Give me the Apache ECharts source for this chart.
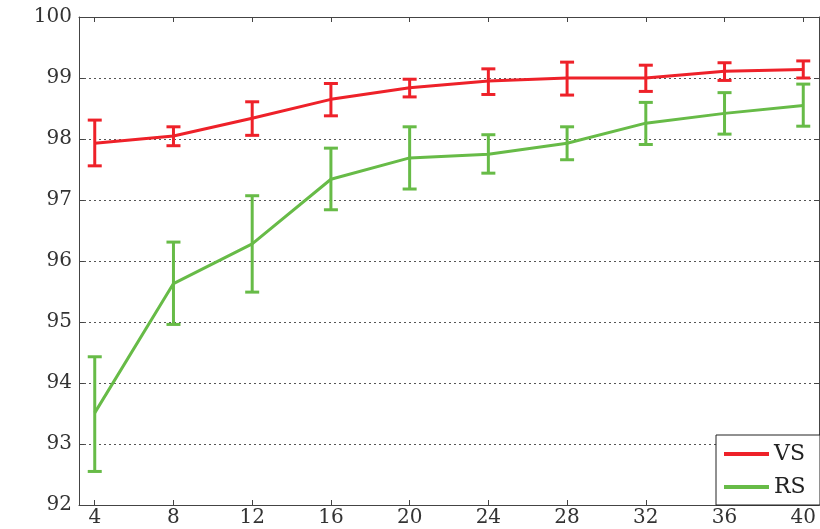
<!DOCTYPE html>
<html>
<head>
<meta charset="utf-8">
<script src="https://cdn.jsdelivr.net/npm/echarts@6/dist/echarts.min.js"></script>
<style>html,body{margin:0;padding:0;background:#fff;}#c{width:820px;height:529px;}</style>
</head>
<body>
<div id="c"></div>
<script>
const xValues = [4, 8, 12, 16, 20, 24, 28, 32, 36, 40];
const vsMean = [97.93, 98.05, 98.34, 98.65, 98.84, 98.95, 99.00, 99.00, 99.11, 99.14];
const vsLow  = [97.56, 97.89, 98.06, 98.38, 98.69, 98.73, 98.72, 98.78, 98.96, 99.00];
const vsHigh = [98.31, 98.20, 98.61, 98.91, 98.98, 99.15, 99.26, 99.21, 99.25, 99.28];
const rsMean = [93.51, 95.63, 96.28, 97.34, 97.69, 97.75, 97.93, 98.26, 98.42, 98.55];
const rsLow  = [92.55, 94.96, 95.49, 96.84, 97.18, 97.44, 97.66, 97.91, 98.08, 98.21];
const rsHigh = [94.43, 96.31, 97.07, 97.85, 98.20, 98.07, 98.20, 98.60, 98.76, 98.90];
const xTicks = [4, 8, 12, 16, 20, 24, 28, 32, 36, 40];

const RED = '#EE2129';
const GREEN = '#67BB47';
const FONT = 'DejaVu Serif';

function pairs(xs, ys) { return xs.map((x, i) => [x, ys[i]]); }
function errData(xs, lo, hi) { return xs.map((x, i) => [x, lo[i], hi[i]]); }

function errSeries(name, color, data) {
  return {
    type: 'custom',
    name: name,
    data: data,
    z: 3,
    renderItem: function (params, api) {
      const x = api.value(0);
      const lo = api.coord([x, api.value(1)]);
      const hi = api.coord([x, api.value(2)]);
      const w = 7;
      const style = { stroke: color, lineWidth: 3 };
      return {
        type: 'group',
        children: [
          { type: 'line', shape: { x1: lo[0], y1: lo[1], x2: hi[0], y2: hi[1] }, style: style },
          { type: 'line', shape: { x1: lo[0] - w, y1: lo[1], x2: lo[0] + w, y2: lo[1] }, style: style },
          { type: 'line', shape: { x1: hi[0] - w, y1: hi[1], x2: hi[0] + w, y2: hi[1] }, style: style }
        ]
      };
    },
    encode: { x: 0, y: [1, 2] },
    tooltip: { show: false }
  };
}

const chart = echarts.init(document.getElementById('c'));
const axisLineStyle = { color: '#444', width: 1 };
chart.setOption({
  animation: false,
  backgroundColor: '#fff',
  grid: { left: 79, top: 17, right: 1, bottom: 24, show: false },
  legend: {
    data: [
      { name: 'VS', icon: 'rect', itemStyle: { color: RED } },
      { name: 'RS', icon: 'rect', itemStyle: { color: GREEN } }
    ],
    orient: 'vertical',
    right: 0,
    bottom: 24,
    itemWidth: 45,
    itemHeight: 4,
    itemGap: 11,
    padding: [8, 4, 7, 8],
    backgroundColor: '#fff',
    borderColor: '#222',
    borderWidth: 1,
    borderRadius: 0,
    textStyle: { fontFamily: FONT, fontSize: 22, color: '#222', lineHeight: 20, width: 42 }
  },
  xAxis: [
    {
      type: 'value', min: 3.2, max: 40.8, position: 'bottom',
      axisLine: { show: true, onZero: false, lineStyle: axisLineStyle },
      axisTick: { show: true, inside: true, length: 5, customValues: xTicks, lineStyle: axisLineStyle },
      axisLabel: { customValues: xTicks, margin: 3, fontFamily: FONT, fontSize: 20, color: '#333' },
      splitLine: { show: false }
    },
    {
      type: 'value', min: 3.2, max: 40.8, position: 'top',
      axisLine: { show: true, onZero: false, lineStyle: axisLineStyle },
      axisTick: { show: true, inside: true, length: 5, customValues: xTicks, lineStyle: axisLineStyle },
      axisLabel: { show: false },
      splitLine: { show: false }
    }
  ],
  yAxis: [
    {
      type: 'value', min: 92, max: 100, interval: 1, position: 'left',
      axisLine: { show: true, onZero: false, lineStyle: axisLineStyle },
      axisTick: { show: true, inside: true, length: 5, lineStyle: axisLineStyle },
      axisLabel: { margin: 7, fontFamily: FONT, fontSize: 20, color: '#333' },
      splitLine: { show: true, lineStyle: { color: '#555', width: 1, type: [2, 3] } }
    },
    {
      type: 'value', min: 92, max: 100, interval: 1, position: 'right',
      axisLine: { show: true, onZero: false, lineStyle: axisLineStyle },
      axisTick: { show: true, inside: true, length: 5, lineStyle: axisLineStyle },
      axisLabel: { show: false },
      splitLine: { show: false }
    }
  ],
  series: [
    {
      name: 'RS', type: 'line', data: pairs(xValues, rsMean), symbol: 'none',
      lineStyle: { color: GREEN, width: 3 }, itemStyle: { color: GREEN }, z: 2
    },
    errSeries('RS', GREEN, errData(xValues, rsLow, rsHigh)),
    {
      name: 'VS', type: 'line', data: pairs(xValues, vsMean), symbol: 'none',
      lineStyle: { color: RED, width: 3 }, itemStyle: { color: RED }, z: 4
    },
    errSeries('VS', RED, errData(xValues, vsLow, vsHigh))
  ]
});
</script>
</body>
</html>
